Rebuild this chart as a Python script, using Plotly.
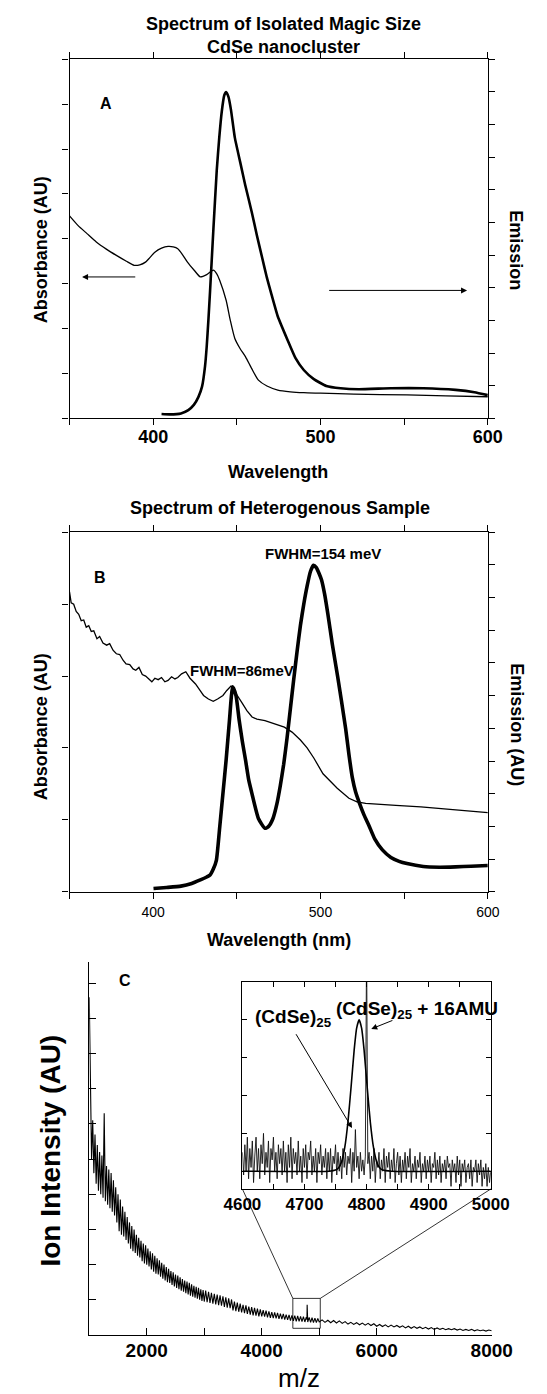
import plotly.graph_objects as go

W, H = 547, 1394
FONT = "Liberation Sans, Arial, sans-serif"

# ---------------- Panel A : isolated magic-size CdSe ----------------
A_ABS_NM = [350, 355, 360.6, 366, 372, 378, 384, 388.6, 392, 395.4, 398, 401, 405, 408.9, 412,
            414.7, 417.5, 420.5, 424.5, 428.2, 432, 435.9, 438, 439.8, 443.6, 446, 448.8, 452,
            455.2, 459, 462.9, 468, 474.5, 482, 490, 500, 520, 551.7, 575, 600]
A_ABS = [4.51, 4.30, 4.11, 3.93, 3.77, 3.63, 3.50, 3.41, 3.42, 3.48, 3.58, 3.70, 3.79, 3.83, 3.82,
         3.78, 3.65, 3.48, 3.30, 3.15, 3.20, 3.30, 3.22, 3.07, 2.63, 2.20, 1.78, 1.55,
         1.37, 1.10, 0.85, 0.72, 0.63, 0.59, 0.57, 0.56, 0.54, 0.52, 0.50, 0.48]
A_EM_NM = [405, 410, 416.6, 421, 424.3, 427, 429.2, 431, 432, 433, 434, 436, 438, 439.5, 441,
           442.5, 443.6, 445, 446.5, 448.8, 452, 455, 459, 462, 465, 468, 470.7, 474.5,
           480.3, 485, 490, 496, 503.5, 512, 522.8, 542, 561.4, 580.7, 592, 600]
A_EM = [0.13, 0.12, 0.15, 0.25, 0.41, 0.65, 0.97, 1.6, 2.2, 3.0, 3.9, 5.8, 7.6, 8.6, 9.4,
        9.9, 10.0, 9.85, 9.45, 8.6, 7.85, 7.15, 6.3, 5.6, 4.95, 4.3, 3.8, 3.12,
        2.40, 1.85, 1.48, 1.2, 0.99, 0.92, 0.89, 0.92, 0.92, 0.87, 0.8, 0.71]

# ---------------- Panel B : heterogeneous sample ----------------
B_ABS_NM = [350, 351, 352.5, 354, 355.5, 357, 358.5, 360, 361.5, 363, 364.5, 366.4, 368, 370,
            372.2, 374, 376, 378, 380, 382, 383.8, 386, 388, 389.6, 391.5, 393.5, 395.5, 397.5,
            399.2, 401, 403, 405, 407, 408.9, 411, 413, 414.7, 417, 419.5, 422, 425.3, 428,
            430.1, 433, 435.9, 438.5, 441.7, 444, 446.5, 448, 450, 453.3, 456, 459.1, 462,
            466.8, 472, 478.4, 483, 488, 492, 496, 501.5, 505.4, 510, 517, 521.8, 527, 532.4,
            545, 560, 571, 585, 600]
B_ABS = [4.17, 4.02, 4.0, 3.9, 3.86, 3.77, 3.78, 3.68, 3.70, 3.62, 3.63, 3.52, 3.55, 3.46,
         3.43, 3.45, 3.36, 3.31, 3.30, 3.22, 3.17, 3.16, 3.10, 3.08, 3.12, 3.02, 3.00, 2.95,
         2.92, 2.97, 2.95, 2.98, 2.92, 2.94, 2.99, 2.96, 2.98, 3.03, 3.06, 2.97, 2.89, 2.80,
         2.73, 2.68, 2.65, 2.68, 2.73, 2.80, 2.86, 2.84, 2.74, 2.62, 2.52, 2.43, 2.40,
         2.38, 2.34, 2.29, 2.22, 2.11, 2.00, 1.86, 1.64, 1.55, 1.44, 1.30, 1.25, 1.23, 1.22,
         1.20, 1.18, 1.16, 1.13, 1.10]
B_EM_NM = [400.2, 408, 416.6, 423, 428.2, 432, 434, 436, 437.8, 439.8, 441.7, 443.6, 445.6,
           447.5, 449.5, 451.4, 453.3, 455.2, 457.1, 459, 462.9, 466.8, 469, 471.6, 474, 476,
           478, 480, 482, 484, 486, 488, 490, 492, 494, 495.8, 497.5, 500.6, 502.5, 504.4,
           507, 510.2, 512.5, 515, 517, 519, 521, 523, 526, 529, 532.4, 537, 542.1, 547,
           551.7, 561.4, 571, 580.7, 590, 600]
B_EM = [0.10, 0.13, 0.17, 0.25, 0.36, 0.45, 0.51, 0.70, 0.97, 1.99, 3.01, 4.03, 5.25,
        6.27, 6.0, 5.25, 4.6, 4.03, 3.42, 3.01, 2.24, 1.94, 2.0, 2.24, 2.7, 3.25,
        3.9, 4.7, 5.6, 6.5, 7.35, 8.15, 8.8, 9.35, 9.8, 9.99, 9.92, 9.55, 9.1, 8.5,
        7.6, 6.6, 5.85, 5.0, 4.2, 3.5, 3.05, 2.75, 2.35, 2.02, 1.62, 1.28, 1.05, 0.93,
        0.86, 0.77, 0.75, 0.76, 0.78, 0.80]

# ---------------- Panel C : mass spectrum ----------------
C_MZ_START1, C_MZ_STEP1 = 1000, 20
C_INT1 = [9.6, 7.4, 5.0, 6.1, 4.6, 5.7, 4.3, 5.4, 4.1, 5.2,
          4.0, 5.1, 3.9, 6.3, 3.8, 4.8, 3.7, 4.7, 3.6, 4.6,
          3.5, 4.4, 3.4, 4.2, 3.2, 4.0, 2.95, 3.85, 2.85, 3.65,
          2.8, 3.5, 2.7, 3.35, 2.6, 3.2, 2.45, 3.1, 2.38, 3.0,
          2.33, 2.85, 2.25, 2.76, 2.2, 2.68, 2.1, 2.6, 2.03, 2.55,
          2.0, 2.46, 1.95, 2.38, 1.86, 2.32, 1.8, 2.25, 1.74, 2.18,
          1.72, 2.12, 1.66, 2.05, 1.6, 2.0, 1.55, 1.93, 1.5, 1.88,
          1.48, 1.82, 1.42, 1.78, 1.38, 1.72, 1.34, 1.69, 1.3, 1.64,
          1.26, 1.59, 1.23, 1.55, 1.19, 1.52, 1.15, 1.48, 1.12, 1.44,
          1.09, 1.4, 1.06, 1.37, 1.03, 1.34, 1.0, 1.3, 0.97, 1.28]
C_MZ_START2, C_MZ_STEP2 = 3000, 25
C_INT2 = [0.95, 1.26, 0.93, 1.23, 0.91, 1.2, 0.89, 1.17, 0.87, 1.15,
          0.85, 1.13, 0.83, 1.1, 0.8, 1.07, 0.78, 1.04, 0.76, 1.01,
          0.7, 0.95, 0.68, 0.92, 0.66, 0.89, 0.64, 0.86, 0.62, 0.84,
          0.6, 0.81, 0.58, 0.79, 0.56, 0.77, 0.55, 0.75, 0.53, 0.73,
          0.53, 0.71, 0.52, 0.69, 0.5, 0.67, 0.49, 0.65, 0.48, 0.64,
          0.47, 0.63, 0.46, 0.61, 0.45, 0.6, 0.44, 0.58, 0.43, 0.57,
          0.41, 0.56, 0.4, 0.55, 0.39, 0.54, 0.39, 0.53, 0.38, 0.52,
          0.37, 0.51, 0.37, 0.5, 0.36, 0.49, 0.35, 0.48, 0.35, 0.47]
C_MZ_START3, C_MZ_STEP3 = 5000, 50
C_INT3 = [0.37, 0.43, 0.36, 0.42, 0.35, 0.41, 0.34, 0.4, 0.33, 0.38,
          0.31, 0.36, 0.3, 0.35, 0.29, 0.34, 0.28, 0.33, 0.27, 0.32,
          0.25, 0.3, 0.24, 0.29, 0.23, 0.28, 0.23, 0.27, 0.22, 0.26,
          0.2, 0.25, 0.19, 0.24, 0.19, 0.23, 0.18, 0.22, 0.17, 0.21,
          0.16, 0.2, 0.16, 0.19, 0.15, 0.18, 0.15, 0.18, 0.14, 0.17,
          0.13, 0.16, 0.13, 0.16, 0.12, 0.15, 0.12, 0.14, 0.11, 0.14,
          0.12]
C_SPIKE_MZ = [4786, 4790, 4794]
C_SPIKE_INT = [0.44, 0.86, 0.43]

INSET_MZ_START, INSET_MZ_STEP = 4600, 2
INSET_INT = [0.5, -0.1, 0.7, 0.0, 0.9, -0.2, 0.6, 0.1, 0.8, -0.3,
             0.4, 0.9, 0.0, 0.6, -0.2, 0.7, 0.2, 1.0, -0.1, 0.5,
             0.1, 0.8, -0.3, 0.6, 0.3, 0.9, 0.0, 0.5, -0.2, 0.7,
             0.2, 0.6, -0.1, 0.8, 0.0, 0.5, -0.3, 0.7, 0.1, 0.9,
             -0.2, 0.6, 0.2, 0.5, -0.1, 0.8, 0.0, 0.4, -0.3, 0.6,
             0.1, 0.7, -0.2, 0.5, 0.3, 0.8, -0.1, 0.4, 0.0, 0.6,
             -0.3, 0.5, 0.2, 0.7, -0.1, 0.4, 0.1, 0.6, -0.2, 0.5,
             0.0, 0.6, -0.3, 0.4, 0.2, 0.7, -0.1, 0.5, 0.0, 0.4,
             -0.2, 0.6, 0.1, 0.5, -0.1, 0.4, 0.2, 0.6, -0.3, 0.5,
             0.0, 1.1, 0.1, 0.4, -0.2, 0.5, 0.0, 0.3, -0.1, 0.4,
             6.0, 0.2, 0.5, -0.2, 0.4, 0.0, 0.6, -0.3, 0.3, 0.1,
             0.5, -0.2, 0.3, 0.0, 0.6, -0.3, 0.4, 0.1, 0.5, -0.2,
             0.3, 0.0, 0.6, -0.3, 0.2, 0.5, -0.1, 0.4, -0.3, 0.3,
             0.0, 0.5, -0.2, 0.4, 0.1, 0.6, -0.3, 0.2, 0.0, 0.4,
             -0.2, 0.3, 0.1, 0.5, -0.3, 0.2, 0.0, 0.4, -0.2, 0.3,
             0.0, 0.4, -0.3, 0.2, 0.1, 0.5, -0.2, 0.3, -0.1, 0.4,
             -0.3, 0.2, 0.0, 0.3, -0.2, 0.4, 0.1, 0.2, -0.4, 0.3,
             0.0, 0.2, -0.3, 0.4, -0.1, 0.3, -0.4, 0.2, 0.0, 0.3,
             -0.3, 0.1, 0.2, -0.2, 0.3, -0.4, 0.1, 0.0, 0.3, -0.3,
             0.2, -0.1, 0.3, -0.4, 0.1, -0.2, 0.2, -0.4, 0.1, -0.3,
             0.0]
FIT_MZ = [4600, 4740, 4750, 4755, 4760, 4765, 4770, 4775, 4780, 4784, 4788, 4792, 4796,
          4801, 4806, 4811, 4816, 4821, 4826, 4840, 5000]
FIT_INT = [0, 0, 0.03, 0.09, 0.26, 0.64, 1.30, 2.22, 3.20, 3.78, 4.0, 3.78, 3.20,
           2.22, 1.30, 0.64, 0.26, 0.09, 0.03, 0, 0]

# tick labels
A_XTICKS = [350, 400, 450, 500, 550, 600]
A_XTICKTEXT = ["", "400", "", "500", "", "600"]
C_XTICKS = [1000, 2000, 3000, 4000, 5000, 6000, 7000, 8000]
C_XTICKTEXT = ["", "2000", "", "4000", "", "6000", "", "8000"]
INSET_XTICKS = [4600, 4650, 4700, 4750, 4800, 4850, 4900, 4950, 5000]
INSET_XTICKTEXT = ["4600", "", "4700", "", "4800", "", "4900", "", "5000"]

# ---------------- layout geometry (pixels) ----------------
def fx(px):
    return px / W

def fy(py):
    return 1 - py / H

DOM_AB_X = [fx(54.5), fx(505.8)]
DOM_A_Y = [fy(418.3), fy(59.3)]
DOM_B_Y = [fy(891.7), fy(532.3)]
DOM_C_X = [fx(75.8), fx(510)]
DOM_C_Y = [fy(1335), fy(962)]
DOM_I_X = [fx(241), fx(509)]
DOM_I_Y = [fy(1189), fy(982)]

R_NM = [350, 600]
R_A_ABS = [0, 8]
R_A_EM = [0, 11]
R_B_ABS = [0, 5]
R_B_EM = [0, 11]
R_C_X = [1000, 8000]
R_C_Y = [0, 10.6]
R_I_X = [4600, 5000]
R_I_Y = [-0.47, 5.0]

c_x = [C_MZ_START1 + i * C_MZ_STEP1 for i in range(len(C_INT1))] + \
      [C_MZ_START2 + i * C_MZ_STEP2 for i in range(len(C_INT2))] + \
      [C_MZ_START3 + i * C_MZ_STEP3 for i in range(len(C_INT3))] + C_SPIKE_MZ
c_y = C_INT1 + C_INT2 + C_INT3 + C_SPIKE_INT
pairs = sorted(zip(c_x, c_y))
c_x = [p[0] for p in pairs]
c_y = [p[1] for p in pairs]
inset_x = [INSET_MZ_START + i * INSET_MZ_STEP for i in range(len(INSET_INT))]

fig = go.Figure()
fig.add_trace(go.Scatter(x=A_ABS_NM, y=A_ABS, xaxis="x", yaxis="y", mode="lines",
                         line=dict(color="black", width=1.3, shape="spline", smoothing=0.6)))
fig.add_trace(go.Scatter(x=A_EM_NM, y=A_EM, xaxis="x", yaxis="y2", mode="lines",
                         line=dict(color="black", width=2.6, shape="spline", smoothing=0.4)))
fig.add_trace(go.Scatter(x=B_ABS_NM, y=B_ABS, xaxis="x2", yaxis="y3", mode="lines",
                         line=dict(color="black", width=1.3)))
fig.add_trace(go.Scatter(x=B_EM_NM, y=B_EM, xaxis="x2", yaxis="y4", mode="lines",
                         line=dict(color="black", width=3.6, shape="spline", smoothing=0.5)))
fig.add_trace(go.Scatter(x=c_x, y=c_y, xaxis="x3", yaxis="y5", mode="lines",
                         line=dict(color="black", width=1.1)))
fig.add_trace(go.Scatter(x=inset_x, y=INSET_INT, xaxis="x4", yaxis="y6", mode="lines",
                         line=dict(color="#111111", width=0.9)))
fig.add_trace(go.Scatter(x=FIT_MZ, y=FIT_INT, xaxis="x4", yaxis="y6", mode="lines",
                         line=dict(color="black", width=1.6, shape="spline", smoothing=0.5)))

AX = dict(showline=True, linecolor="black", linewidth=1.3, showgrid=False, zeroline=False,
          tickcolor="black", tickwidth=1.3)

def tf(size, bold=True):
    return dict(family=FONT, size=size, color="black", weight="bold" if bold else "normal")

layout = dict(
    width=W, height=H, margin=dict(l=0, r=0, t=0, b=0), showlegend=False,
    plot_bgcolor="white", paper_bgcolor="white",
    xaxis=dict(AX, domain=DOM_AB_X, range=R_NM, anchor="y", tickmode="array",
               tickvals=A_XTICKS, ticktext=A_XTICKTEXT, ticks="outside", ticklen=6,
               mirror="ticks", tickfont=tf(18), ticklabelstandoff=-4),
    yaxis=dict(AX, domain=DOM_A_Y, range=R_A_ABS, anchor="x", tickmode="array",
               tickvals=list(range(0, 9)), ticks="outside", ticklen=6, showticklabels=False),
    yaxis2=dict(AX, overlaying="y", side="right", anchor="x", range=R_A_EM, tickmode="array",
                tickvals=list(range(0, 12)), ticks="outside", ticklen=6, showticklabels=False),
    xaxis2=dict(AX, domain=DOM_AB_X, range=R_NM, anchor="y3", tickmode="array",
                tickvals=A_XTICKS, ticktext=A_XTICKTEXT, ticks="outside", ticklen=6,
                mirror="ticks", tickfont=tf(14, False), ticklabelstandoff=1),
    yaxis3=dict(AX, domain=DOM_B_Y, range=R_B_ABS, anchor="x2", tickmode="array",
                tickvals=list(range(0, 6)), ticks="outside", ticklen=6, showticklabels=False),
    yaxis4=dict(AX, overlaying="y3", side="right", anchor="x2", range=R_B_EM, tickmode="array",
                tickvals=list(range(0, 12)), ticks="outside", ticklen=6, showticklabels=False),
    xaxis3=dict(AX, domain=DOM_C_X, range=R_C_X, anchor="y5", tickmode="array",
                tickvals=C_XTICKS, ticktext=C_XTICKTEXT, ticks="inside", ticklen=7,
                tickfont=tf(19), ticklabelstandoff=-2),
    yaxis5=dict(AX, domain=DOM_C_Y, range=R_C_Y, anchor="x3", tickmode="array",
                tickvals=list(range(0, 11)), ticks="inside", ticklen=7, showticklabels=False),
    xaxis4=dict(AX, domain=DOM_I_X, range=R_I_X, anchor="y6", tickmode="array",
                tickvals=INSET_XTICKS, ticktext=INSET_XTICKTEXT, ticks="inside", ticklen=5,
                mirror="ticks", tickfont=tf(17), ticklabelstandoff=0, linewidth=1.0),
    yaxis6=dict(AX, domain=DOM_I_Y, range=R_I_Y, anchor="x4", tickmode="array",
                tickvals=list(range(0, 6)), ticks="inside", ticklen=5, mirror="ticks",
                showticklabels=False, linewidth=1.0),
)
fig.update_layout(**layout)

def ann(text, x, y, size, bold=True, angle=0):
    return dict(text=text, x=fx(x), y=fy(y), xref="paper", yref="paper", showarrow=False,
                font=tf(size, bold), textangle=angle, xanchor="center", yanchor="middle")

anns = [
    ann("Spectrum of Isolated Magic Size", 285, 24, 18),
    ann("CdSe nanocluster", 285, 47, 18),
    ann("A", 94, 104, 16),
    ann("Absorbance (AU)", 24, 250, 18, angle=-90),
    ann("Emission", 536, 250, 18, angle=90),
    ann("Wavelength", 279, 472, 18),
    ann("Spectrum of Heterogenous Sample", 282, 508, 18),
    ann("B", 87, 577, 16),
    ann("FWHM=154 meV", 328, 553, 15),
    ann("FWHM=86meV", 241, 670, 15),
    ann("Absorbance (AU)", 24, 727, 18, angle=-90),
    ann("Emission (AU)", 537, 725, 18, angle=90),
    ann("Wavelength (nm)", 281, 940, 18),
    ann("C", 114, 980, 16),
    ann("Ion Intensity (AU)", 33, 1151, 28, angle=-90),
    ann("m/z", 302, 1378, 26, bold=False),
    ann("(CdSe)<sub>25</sub>", 296, 1018, 19),
    ann("(CdSe)<sub>25</sub> + 16AMU", 429, 1010, 19),
]

def arrow(x, y, ax, ay, xref, yref):
    return dict(x=x, y=y, ax=ax, ay=ay, xref=xref, yref=yref, axref=xref, ayref=yref,
                text="", showarrow=True, arrowhead=2, arrowsize=1.2, arrowwidth=1,
                arrowcolor="black")

anns += [
    arrow(357.5, 3.15, 390.2, 3.15, "x", "y"),
    arrow(587.6, 2.85, 504.3, 2.85, "x", "y"),
    arrow(4776.6, 1.14, 4685, 3.66, "x4", "y6"),
    arrow(4807.5, 3.76, 4844, 4.0, "x4", "y6"),
]
fig.update_layout(annotations=anns)

# zoom box on main spectrum and connectors to the inset
BOX_X = [4541, 5018]
BOX_Y = [0.19, 1.04]

def to_paper(v, rng, dom):
    return dom[0] + (v - rng[0]) / (rng[1] - rng[0]) * (dom[1] - dom[0])

shapes = [
    dict(type="rect", xref="x3", yref="y5", x0=BOX_X[0], x1=BOX_X[1], y0=BOX_Y[0], y1=BOX_Y[1],
         line=dict(color="black", width=0.8)),
    dict(type="line", xref="paper", yref="paper",
         x0=to_paper(BOX_X[0], R_C_X, DOM_C_X), y0=to_paper(BOX_Y[1], R_C_Y, DOM_C_Y),
         x1=to_paper(R_I_X[0], R_I_X, DOM_I_X), y1=to_paper(R_I_Y[0], R_I_Y, DOM_I_Y),
         line=dict(color="black", width=0.8)),
    dict(type="line", xref="paper", yref="paper",
         x0=to_paper(BOX_X[1], R_C_X, DOM_C_X), y0=to_paper(BOX_Y[1], R_C_Y, DOM_C_Y),
         x1=to_paper(R_I_X[1], R_I_X, DOM_I_X), y1=to_paper(R_I_Y[0], R_I_Y, DOM_I_Y),
         line=dict(color="black", width=0.8)),
]
fig.update_layout(shapes=shapes)

fig.write_html("out.html", config={"displayModeBar": False},
               post_script="document.body.style.margin='0';document.body.style.padding='0';"
                           "document.body.style.overflow='hidden';")
